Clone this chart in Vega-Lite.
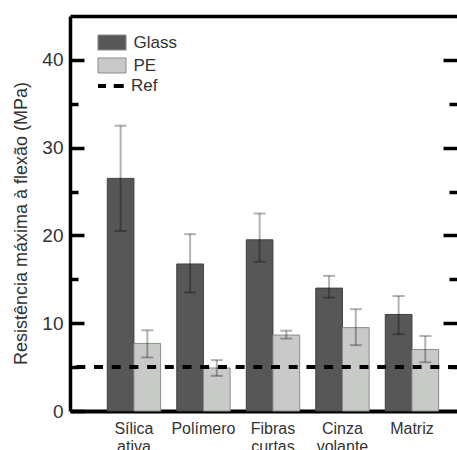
{
  "$schema": "https://vega.github.io/schema/vega-lite/v6.json",
  "width": 387,
  "height": 395,
  "autosize": {"type": "none"},
  "padding": {"left": 70, "top": 16, "right": 0, "bottom": 39},
  "background": "white",
  "config": {"view": {"stroke": null}, "font": "Liberation Sans", "axis": {"grid": false}},
  "data": {"values": [
    {"cat": "Sílica ativa", "series": "Glass", "value": 26.5, "lo": 20.5, "hi": 32.5},
    {"cat": "Sílica ativa", "series": "PE", "value": 7.7, "lo": 6.1, "hi": 9.2},
    {"cat": "Polímero", "series": "Glass", "value": 16.75, "lo": 13.5, "hi": 20.15},
    {"cat": "Polímero", "series": "PE", "value": 4.9, "lo": 4.0, "hi": 5.8},
    {"cat": "Fibras curtas", "series": "Glass", "value": 19.5, "lo": 17.0, "hi": 22.5},
    {"cat": "Fibras curtas", "series": "PE", "value": 8.65, "lo": 8.25, "hi": 9.15},
    {"cat": "Cinza volante", "series": "Glass", "value": 14.0, "lo": 12.9, "hi": 15.4},
    {"cat": "Cinza volante", "series": "PE", "value": 9.5, "lo": 7.5, "hi": 11.6},
    {"cat": "Matriz", "series": "Glass", "value": 11.0, "lo": 8.75, "hi": 13.1},
    {"cat": "Matriz", "series": "PE", "value": 7.0, "lo": 5.55, "hi": 8.55}
  ]},
  "resolve": {"axis": {"x": "independent", "y": "independent"}},
  "layer": [
    {
      "mark": {"type": "bar", "strokeWidth": 1},
      "encoding": {
        "x": {"field": "cat", "type": "nominal", "sort": ["Sílica ativa", "Polímero", "Fibras curtas", "Cinza volante", "Matriz"],
          "scale": {"paddingInner": 0.232, "paddingOuter": 0.4, "align": 0.67},
          "axis": {"orient": "bottom", "title": null, "domain": true, "domainColor": "black", "domainWidth": 4, "ticks": false, "labelAngle": 0, "labelFontSize": 16, "labelColor": "#333", "labelExpr": "split(datum.value, ' ')", "labelPadding": 9, "labelLineHeight": 18}},
        "xOffset": {"field": "series", "type": "nominal", "sort": ["Glass", "PE"], "scale": {"paddingInner": 0, "paddingOuter": 0}},
        "y": {"field": "value", "type": "quantitative", "scale": {"domain": [0, 45], "nice": false, "zero": true},
          "axis": {"orient": "left", "values": [0, 10, 20, 30, 40], "tickSize": -14, "tickWidth": 3.5, "tickColor": "black", "domainColor": "black", "domainWidth": 3.5, "labelFontSize": 19, "labelColor": "#333", "labelPadding": 21,
            "title": "Resistência máxima à flexão (MPa)", "titleFontSize": 18, "titleFontWeight": "normal", "titleColor": "#333", "titleAngle": 270, "titleBaseline": "alphabetic", "titleX": -43.5, "titleY": 207}},
        "fill": {"field": "series", "type": "nominal",
          "scale": {"domain": ["Glass", "PE"], "range": ["#575757", "#c8cac8"]},
          "legend": {"title": null, "orient": "none", "legendX": 33.5, "legendY": 18, "padding": 0,
            "symbolType": "M-1.87,-1H1.87V1H-1.87Z", "symbolSize": 225, "symbolStrokeWidth": 1,
            "labelFontSize": 17, "labelColor": "#333", "labelOffset": 13, "rowPadding": 4,
            "encode": {"symbols": {"update": {
              "stroke": {"signal": "datum.value === 'Glass' ? '#404040' : '#8c8c8c'"},
              "opacity": {"value": 1}
            }}}}},
        "stroke": {"condition": {"test": "datum.series === 'Glass'", "value": "#404040"}, "value": "#8c8c8c"}
      }
    },
    {
      "mark": {"type": "rule", "strokeWidth": 2, "color": "black", "opacity": 0.3},
      "encoding": {
        "x": {"field": "cat", "type": "nominal", "sort": ["Sílica ativa", "Polímero", "Fibras curtas", "Cinza volante", "Matriz"],
          "axis": {"orient": "top", "title": null, "labels": false, "ticks": false, "domain": true, "domainColor": "black", "domainWidth": 3.5}},
        "xOffset": {"field": "series", "type": "nominal", "sort": ["Glass", "PE"]},
        "y": {"field": "lo", "type": "quantitative", "scale": {"domain": [0, 45], "nice": false},
          "axis": {"orient": "left", "values": [5, 15, 25, 35], "tickSize": -8, "tickWidth": 3.5, "tickColor": "black", "domain": false, "labels": false, "title": null}},
        "y2": {"field": "hi"}
      }
    },
    {
      "mark": {"type": "tick", "thickness": 2, "size": 12, "color": "black", "opacity": 0.3},
      "encoding": {
        "x": {"field": "cat", "type": "nominal", "sort": ["Sílica ativa", "Polímero", "Fibras curtas", "Cinza volante", "Matriz"], "axis": null},
        "xOffset": {"field": "series", "type": "nominal", "sort": ["Glass", "PE"]},
        "y": {"field": "lo", "type": "quantitative", "scale": {"domain": [0, 45], "nice": false},
          "axis": {"orient": "right", "values": [10, 20, 30, 40], "tickSize": -14, "tickWidth": 3.5, "tickColor": "black", "domain": false, "labels": false, "title": null}}
      }
    },
    {
      "mark": {"type": "tick", "thickness": 2, "size": 12, "color": "black", "opacity": 0.3},
      "encoding": {
        "x": {"field": "cat", "type": "nominal", "sort": ["Sílica ativa", "Polímero", "Fibras curtas", "Cinza volante", "Matriz"], "axis": null},
        "xOffset": {"field": "series", "type": "nominal", "sort": ["Glass", "PE"]},
        "y": {"field": "hi", "type": "quantitative", "scale": {"domain": [0, 45], "nice": false},
          "axis": {"orient": "right", "values": [5, 15, 25, 35], "tickSize": -8, "tickWidth": 3.5, "tickColor": "black", "domain": false, "labels": false, "title": null}}
      }
    },
    {
      "data": {"values": [{"ref": 5, "name": "Ref"}]},
      "mark": {"type": "rule", "strokeDash": [9, 8.7], "strokeWidth": 4},
      "encoding": {
        "y": {"field": "ref", "type": "quantitative", "scale": {"domain": [0, 45], "nice": false}, "axis": null},
        "stroke": {"field": "name", "type": "nominal", "scale": {"domain": ["Ref"], "range": ["#000000"]},
          "legend": {"title": null, "orient": "none", "legendX": 26, "legendY": 55, "padding": 0,
            "symbolType": "stroke", "symbolSize": 676, "symbolStrokeWidth": 4, "symbolDash": [8, 7.7, 10, 8],
            "labelFontSize": 17, "labelColor": "#333", "labelOffset": 5}}
      }
    }
  ]
}
